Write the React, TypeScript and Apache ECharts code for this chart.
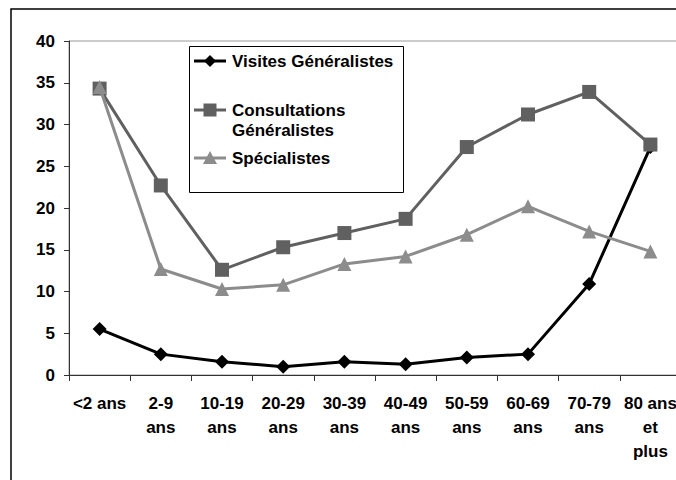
import React, { useEffect, useRef } from "react";
import * as echarts from "echarts";

const categories = [
  "<2 ans",
  "2-9\nans",
  "10-19\nans",
  "20-29\nans",
  "30-39\nans",
  "40-49\nans",
  "50-59\nans",
  "60-69\nans",
  "70-79\nans",
  "80 ans\net\nplus",
];

const seriesNames = ["Visites Généralistes", "Consultations Généralistes", "Spécialistes"];
const legendLabels = ["Visites Généralistes", "Consultations\nGénéralistes", "Spécialistes"];

const visites = [5.5, 2.5, 1.6, 1.0, 1.6, 1.3, 2.1, 2.5, 10.9, 27.3];
const consultations = [34.3, 22.7, 12.6, 15.3, 17.0, 18.7, 27.3, 31.2, 33.9, 27.6];
const specialistes = [34.5, 12.7, 10.3, 10.8, 13.3, 14.2, 16.8, 20.2, 17.2, 14.8];

const yTicks = { min: 0, max: 40, interval: 5 };

const FONT = "'Liberation Sans', Arial, sans-serif";
const colors = ["#000000", "#606060", "#8c8c8c"];

export default function App() {
  const ref = useRef<HTMLDivElement>(null);

  useEffect(() => {
    if (!ref.current) return;
    const chart = echarts.init(ref.current, null, { renderer: "svg" });

    const lx1 = 194;
    const lx2 = 226;
    const lmid = (lx1 + lx2) / 2;
    const ys = [61, 110, 158];
    const legendItems: any[] = [];
    ys.forEach((y, i) => {
      legendItems.push({
        type: "line",
        shape: { x1: lx1, y1: y, x2: lx2, y2: y },
        style: { stroke: colors[i], lineWidth: 3 },
      });
      if (i === 0) {
        legendItems.push({
          type: "polygon",
          shape: { points: [[lmid, y - 6], [lmid + 6, y], [lmid, y + 6], [lmid - 6, y]] },
          style: { fill: colors[i] },
        });
      } else if (i === 1) {
        legendItems.push({
          type: "rect",
          shape: { x: lmid - 6.5, y: y - 6.5, width: 13, height: 13 },
          style: { fill: colors[i] },
        });
      } else {
        legendItems.push({
          type: "polygon",
          shape: { points: [[lmid, y - 7], [lmid + 7, y + 6], [lmid - 7, y + 6]] },
          style: { fill: colors[i] },
        });
      }
      legendItems.push({
        type: "text",
        x: 232,
        y: y - 10,
        style: {
          text: legendLabels[i],
          font: `bold 17px ${FONT}`,
          fill: "#000",
          lineHeight: 20,
          verticalAlign: "top",
          align: "left",
        },
      });
    });

    const option: any = {
      animation: false,
      backgroundColor: "#ffffff",
      grid: {
        left: 69,
        top: 41,
        right: -5,
        bottom: 105,
        show: true,
        borderColor: "#999999",
        borderWidth: 1,
        containLabel: false,
        outerBoundsMode: "none",
      },
      xAxis: {
        type: "category",
        data: categories,
        boundaryGap: true,
        axisLine: { lineStyle: { color: "#333333", width: 1 } },
        axisTick: { show: true, length: 6, inside: false, lineStyle: { color: "#333333" } },
        axisLabel: {
          interval: 0,
          margin: 16,
          color: "#000",
          fontFamily: FONT,
          fontWeight: "bold",
          fontSize: 17,
          lineHeight: 24,
          align: "center",
        },
        splitLine: { show: false },
      },
      yAxis: {
        type: "value",
        min: yTicks.min,
        max: yTicks.max,
        interval: yTicks.interval,
        axisLine: { show: true, lineStyle: { color: "#333333", width: 1 } },
        axisTick: { show: true, length: 5, lineStyle: { color: "#333333" } },
        axisLabel: {
          margin: 14,
          color: "#000",
          fontFamily: FONT,
          fontWeight: "bold",
          fontSize: 17,
        },
        splitLine: { show: false },
      },
      series: [
        {
          name: seriesNames[0],
          type: "line",
          data: visites,
          symbol: "diamond",
          symbolSize: 14,
          lineStyle: { color: colors[0], width: 3 },
          itemStyle: { color: colors[0] },
          z: 2,
        },
        {
          name: seriesNames[1],
          type: "line",
          data: consultations,
          symbol: "rect",
          symbolSize: 14,
          lineStyle: { color: colors[1], width: 3 },
          itemStyle: { color: colors[1] },
          z: 3,
        },
        {
          name: seriesNames[2],
          type: "line",
          data: specialistes,
          symbol: "triangle",
          symbolSize: 14,
          lineStyle: { color: colors[2], width: 3 },
          itemStyle: { color: colors[2] },
          z: 4,
        },
      ],
      graphic: [
        {
          type: "rect",
          shape: { x: 11, y: 9, width: 720, height: 520 },
          style: { fill: "none", stroke: "#000", lineWidth: 1.5 },
          silent: true,
          z: 100,
        },
        {
          type: "rect",
          shape: { x: 189.5, y: 46.5, width: 214, height: 146 },
          style: { fill: "#ffffff", stroke: "#000", lineWidth: 1 },
          z: 100,
        },
        ...legendItems.map((e) => ({ ...e, z: 101 })),
      ],
    };

    chart.setOption(option);
    return () => chart.dispose();
  }, []);

  return (
    <div
      ref={ref}
      style={{ position: "fixed", left: 0, top: 0, width: 676, height: 480, background: "#fff" }}
    />
  );
}
